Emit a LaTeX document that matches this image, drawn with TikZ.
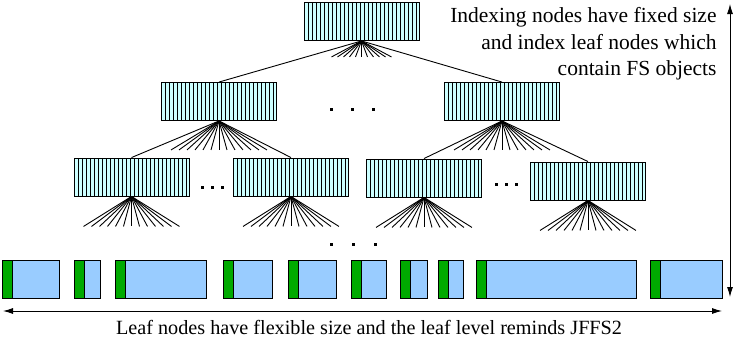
\documentclass[tikz,border=0pt]{standalone}
\usepackage{fontspec}
\setmainfont{Liberation Serif}
\usetikzlibrary{arrows.meta}
\definecolor{idxcyan}{RGB}{204,255,255}
\definecolor{leafblue}{RGB}{153,204,255}
\definecolor{leafgreen}{RGB}{0,170,0}

\tikzset{
  idx/.style={draw, fill=idxcyan, inner sep=0, minimum width=115pt, minimum height=38pt,
    path picture={\foreach \s in {4,8,...,112}
      \draw ([xshift=\s]path picture bounding box.south west) -- ([xshift=\s]path picture bounding box.north west);}},
  leaf/.style={draw, fill=leafblue, inner sep=0, minimum height=38pt,
    path picture={\fill[leafgreen] (path picture bounding box.south west) rectangle ([xshift=10]path picture bounding box.north west);
      \draw ([xshift=10]path picture bounding box.south west) -- ([xshift=10]path picture bounding box.north west);}},
  txt/.style={inner sep=0, font=\fontsize{21.5}{26.5}\selectfont}
}

\begin{document}
\begin{tikzpicture}[x=1pt, y=-1pt, line width=0.9pt, >={Latex[length=10pt,width=6pt]}]
    \useasboundingbox (0,0) rectangle (734,340);

    % Indexing nodes
    \node[idx] (root) at (361.5,21.5) {};
    \node[idx] (a1) at (219,101.5) {};
    \node[idx] (a2) at (502,101.5) {};
    \node[idx] (b1) at (131.5,177) {};
    \node[idx] (b2) at (291,177) {};
    \node[idx] (b3) at (424,178) {};
    \node[idx] (b4) at (588,181) {};

    % Root fan
    \draw (root.south) -- (a1.north);
    \draw (root.south) -- (a2.north);
    \foreach \j in {-5,...,5} {
      \coordinate (r\j) at ([xshift=\j*6, yshift=-16]root.south);
      \draw (root.south) -- (r\j);
    }

    % Second level fans
    \foreach \p/\c/\d in {a1/b1/b2, a2/b3/b4} {
      \draw (\p.south) -- (\c.north);
      \draw (\p.south) -- (\d.north);
      \foreach \j in {-6,...,6} {
        \coordinate (\p\j) at ([xshift=\j*8, yshift=-29]\p.south);
        \draw (\p.south) -- (\p\j);
      }
    }

    % Third level fans
    \foreach \p in {b1,b2,b3,b4}
      \foreach \j in {-6,...,6} {
        \coordinate (\p\j) at ([xshift=\j*8, yshift=-30]\p.south);
        \draw (\p.south) -- (\p\j);
      }

    % Dots
    \foreach \x/\y in {331/109, 352/109, 373/109, 202/187, 212/187, 222/187,
                       496/184, 506/184, 516/184, 331/244, 353/244, 375/244}
      \fill ({\x-1.5},{\y-1.5}) rectangle ++(3,3);

    % Leaf nodes
    \foreach \a/\b [count=\k] in {2/59, 74/100, 115/206, 223/272, 288/336,
                                  351/386, 400/427, 438/463, 476/636, 650/722}
      \node[leaf, minimum width=\b-\a] (l\k) at ({(\a+\b)/2},279) {};

    % Labels and arrows
    \node[txt, anchor=north east, align=right] (idxtext) at (717,7.3)
      {Indexing nodes have fixed size\\and index leaf nodes which\\contain FS objects};
    \coordinate (vtop) at (730,4);
    \coordinate (vbot) at (730,297);
    \draw[<->] (vtop) -- (vbot);
    \coordinate (hleft) at (3,311);
    \coordinate (hright) at (722,311);
    \draw[<->] (hleft) -- (hright);
    \node[txt, anchor=base, font=\fontsize{20.2}{24}\selectfont] (leaftext) at (369,334)
      {Leaf nodes have flexible size and the leaf level reminds JFFS2};
\end{tikzpicture}
\end{document}
